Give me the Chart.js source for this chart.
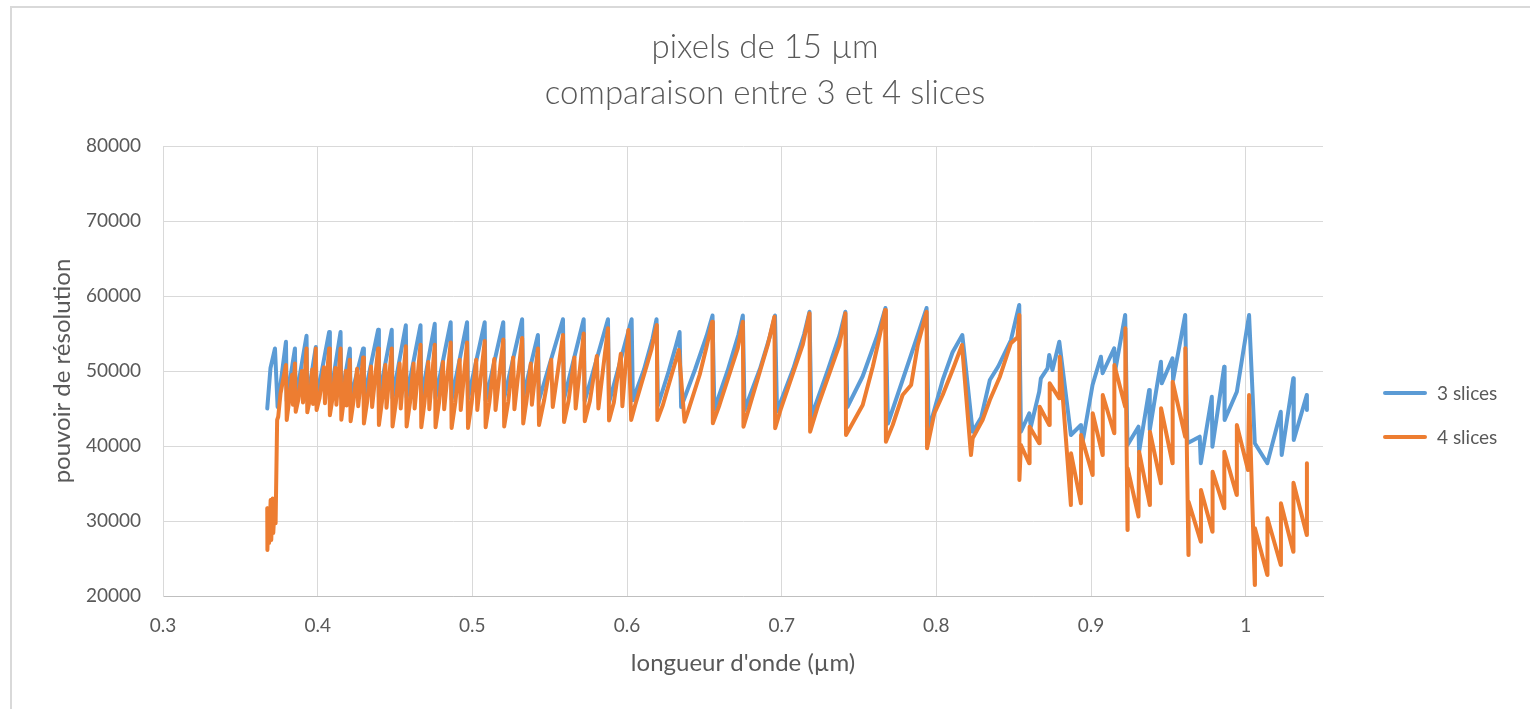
<!DOCTYPE html>
<html>
<head>
<meta charset="utf-8">
<script src="https://cdn.jsdelivr.net/npm/chart.js@4.4.1/dist/chart.umd.min.js"></script>
<style>
  html, body { margin: 0; padding: 0; background: #fff; overflow: hidden; }
  #frame { position: absolute; left: 10px; top: 6px; width: 1540px; height: 720px; border-left: 2px solid #d9d9d9; border-top: 2px solid #d9d9d9; }
  #wrap { position: absolute; left: 0; top: 0; width: 1530px; height: 709px; }
</style>
</head>
<body>
<div id="frame"></div>
<div id="wrap"><canvas id="chart" width="1530" height="709"></canvas></div>
<script>
// wavelength (µm), resolving power
const slices3 = [
  [0.3674, 45000], [0.3695, 50400], [0.3724, 53000],
  [0.3741, 45200], [0.3795, 53900],
  [0.3800, 46000], [0.3853, 53000],
  [0.3858, 46200], [0.3928, 54700],
  [0.3933, 46000], [0.3988, 53200],
  [0.3993, 46300], [0.4074, 55200],
  [0.4079, 46200], [0.4148, 55200],
  [0.4153, 46400], [0.4208, 53000],
  [0.4213, 46400], [0.4294, 53000],
  [0.4299, 46300], [0.4391, 55500],
  [0.4396, 46500], [0.4479, 55500],
  [0.4484, 46400], [0.4570, 56100],
  [0.4575, 46500], [0.4665, 56100],
  [0.4670, 46300], [0.4757, 56300],
  [0.4762, 46400], [0.4860, 56500],
  [0.4866, 46200], [0.4966, 56500],
  [0.4972, 46300], [0.5080, 56500],
  [0.5086, 46100], [0.5200, 56500],
  [0.5206, 46400], [0.5322, 56900],
  [0.5329, 46600], [0.5424, 54800],
  [0.5431, 46100], [0.5586, 56900],
  [0.5593, 46300], [0.5720, 56900],
  [0.5727, 46000], [0.5877, 56900],
  [0.5884, 45800], [0.6030, 56900],
  [0.6038, 46100], [0.6110, 50200], [0.6165, 54300], [0.6191, 56900],
  [0.6200, 45400], [0.6270, 50000], [0.6318, 53500], [0.6340, 55200],
  [0.6350, 45200], [0.6440, 50200], [0.6515, 54700], [0.6553, 57400],
  [0.6565, 44900], [0.6650, 50000], [0.6720, 54800], [0.6749, 57400],
  [0.6760, 44800], [0.6860, 50300], [0.6925, 54700], [0.6957, 57400],
  [0.6970, 44600], [0.7075, 50300], [0.7145, 54900], [0.7180, 57900],
  [0.7192, 43900], [0.7300, 50200], [0.7375, 54800], [0.7412, 57900],
  [0.7425, 45200], [0.7524, 49300], [0.7620, 54800], [0.7671, 58400],
  [0.7687, 43000], [0.7782, 48800], [0.7880, 54800], [0.7937, 58400],
  [0.7950, 42100], [0.8041, 48800], [0.8105, 52500], [0.8168, 54800],
  [0.8235, 41900], [0.8290, 43800], [0.8346, 48800], [0.8400, 50600], [0.8482, 54100], [0.8536, 58800],
  [0.8547, 41900], [0.8601, 44360], [0.8611, 42570], [0.8665, 47240], [0.8676, 49030], [0.8719, 50360], [0.8730, 52130], [0.8751, 50130], [0.8795, 53900],
  [0.8870, 41470], [0.8935, 42800], [0.8946, 40570], [0.9010, 48130], [0.9064, 51900], [0.9075, 49700], [0.9150, 53030], [0.9157, 50130], [0.9221, 57470],
  [0.9236, 40130], [0.9307, 42570], [0.9311, 39240], [0.9376, 47470], [0.9380, 42130], [0.9452, 51240], [0.9458, 48360], [0.9527, 51700], [0.9531, 48800], [0.9609, 57470],
  [0.9623, 40360], [0.9703, 41240], [0.9710, 37700], [0.9781, 46570], [0.9785, 39910], [0.9861, 50570], [0.9864, 43470], [0.9943, 47240], [1.0022, 57470],
  [1.0059, 40360], [1.0140, 37700], [1.0227, 44570], [1.0233, 38800], [1.0308, 49030], [1.0311, 40800], [1.0395, 46800], [1.0396, 44800]
];

const slices4 = [
  [0.3674, 31700], [0.3675, 26130], [0.3682, 31070], [0.3686, 27070], [0.3696, 32800], [0.3700, 27470],
  [0.3709, 33000], [0.3713, 28400], [0.3724, 32800], [0.3728, 29700], [0.3738, 43470], [0.3745, 43900], [0.3760, 47030],
  [0.3795, 50800], [0.3800, 43470], [0.3815, 46000], [0.3835, 49500], [0.3840, 45500],
  [0.3853, 51000], [0.3858, 44570], [0.3875, 46200], [0.3898, 50000], [0.3905, 45800],
  [0.3928, 53000], [0.3933, 44500], [0.3950, 46300], [0.3965, 50200], [0.3970, 45600],
  [0.3988, 53000], [0.3993, 44800], [0.4012, 46400], [0.4040, 50500], [0.4047, 45700],
  [0.4074, 53000], [0.4079, 44100], [0.4095, 46200], [0.4115, 50400], [0.4121, 45500],
  [0.4148, 53000], [0.4153, 43500], [0.4168, 46000], [0.4182, 50000], [0.4187, 45400],
  [0.4208, 51500], [0.4213, 43300], [0.4232, 46000], [0.4255, 50300], [0.4262, 45300],
  [0.4294, 51800], [0.4299, 43000], [0.4320, 45900], [0.4345, 50600], [0.4352, 45200],
  [0.4391, 53000], [0.4396, 42800], [0.4415, 45800], [0.4438, 50800], [0.4445, 45100],
  [0.4479, 53000], [0.4484, 42600], [0.4505, 45700], [0.4530, 51000], [0.4537, 45000],
  [0.4570, 53300], [0.4575, 42600], [0.4597, 45800], [0.4620, 51000], [0.4627, 45000],
  [0.4665, 53500], [0.4670, 42500], [0.4690, 45700], [0.4715, 51200], [0.4722, 44900],
  [0.4757, 53500], [0.4762, 42500], [0.4785, 45800], [0.4810, 51200], [0.4818, 44900],
  [0.4860, 53800], [0.4866, 42400], [0.4890, 45800], [0.4918, 51500], [0.4925, 44800],
  [0.4966, 53800], [0.4972, 42400], [0.4995, 45700], [0.5025, 51500], [0.5032, 44800],
  [0.5080, 54000], [0.5086, 42500], [0.5110, 45800], [0.5142, 51600], [0.5150, 44800],
  [0.5200, 54200], [0.5206, 42600], [0.5232, 45900], [0.5264, 51800], [0.5272, 44900],
  [0.5322, 54400], [0.5329, 43000], [0.5350, 46000], [0.5378, 51000], [0.5385, 45500],
  [0.5424, 53000], [0.5431, 42800], [0.5465, 46200], [0.5510, 51500], [0.5520, 45200],
  [0.5586, 54800], [0.5593, 43200], [0.5622, 46000], [0.5660, 51800], [0.5668, 45000],
  [0.5720, 55000], [0.5727, 43300], [0.5760, 46000], [0.5805, 52000], [0.5815, 45000],
  [0.5877, 55700], [0.5884, 43400], [0.5915, 45800], [0.5960, 52300], [0.5970, 45300],
  [0.6009, 55470], [0.6027, 43470], [0.6053, 45470], [0.6157, 52800], [0.6193, 56130],
  [0.6196, 43470], [0.6232, 45470], [0.6335, 52800],
  [0.6372, 43240], [0.6394, 44570], [0.6470, 49500], [0.6512, 53030], [0.6551, 56570],
  [0.6555, 43030], [0.6598, 45470], [0.6716, 53030], [0.6749, 56570],
  [0.6753, 42570], [0.6792, 45240], [0.6910, 53470], [0.6953, 57240],
  [0.6958, 42360], [0.6996, 45030], [0.7136, 53470], [0.7180, 57700],
  [0.7184, 41900], [0.7233, 45240], [0.7373, 53470], [0.7412, 57700],
  [0.7416, 41470], [0.7470, 43470], [0.7524, 45470], [0.7589, 50570], [0.7621, 53470], [0.7669, 58130],
  [0.7674, 40570], [0.7718, 42800], [0.7782, 46800], [0.7837, 48130], [0.7880, 53470], [0.7937, 57900],
  [0.7940, 39700], [0.7987, 44360], [0.8041, 46800], [0.8105, 50130], [0.8166, 53470],
  [0.8224, 38800], [0.8235, 41030], [0.8299, 43470], [0.8346, 46130], [0.8411, 49240], [0.8482, 53700], [0.8525, 54500], [0.8536, 57470],
  [0.8537, 35470], [0.8547, 40130], [0.8600, 37700], [0.8603, 42570], [0.8665, 40360], [0.8668, 45240], [0.8730, 42800], [0.8733, 48360], [0.8795, 46360], [0.8798, 51900],
  [0.8870, 32130], [0.8871, 39030], [0.8935, 32360], [0.8936, 41470], [0.9010, 36130], [0.9011, 44360], [0.9075, 38800], [0.9076, 46800], [0.9150, 41700], [0.9151, 50800], [0.9221, 45240], [0.9222, 55700],
  [0.9236, 28800], [0.9237, 37030], [0.9307, 30600], [0.9311, 39240], [0.9380, 32130], [0.9381, 41900], [0.9452, 35030], [0.9453, 45030], [0.9527, 37700], [0.9528, 48570], [0.9609, 41240], [0.9610, 53030],
  [0.9630, 25470], [0.9631, 32570], [0.9710, 27240], [0.9711, 34130], [0.9785, 28570], [0.9786, 36570], [0.9861, 31700], [0.9862, 39240], [0.9942, 33470], [0.9943, 42800], [1.0015, 36800], [1.0022, 46800],
  [1.0059, 21470], [1.0060, 29030], [1.0140, 22800], [1.0141, 30360], [1.0227, 24130], [1.0228, 32360], [1.0308, 25910], [1.0309, 35100], [1.0395, 28130], [1.0396, 37700]
];

const seriesLabels = ['3 slices', '4 slices'];
const seriesColors = ['#5B9BD5', '#ED7D31'];
const xTickValues = [0.3, 0.4, 0.5, 0.6, 0.7, 0.8, 0.9, 1];
const xRange = [0.3, 1.05];
const yRange = [20000, 80000];
const yStep = 10000;

const textColor = '#595959';
const gridColor = '#d9d9d9';

function toPoints(pairs) {
  return pairs.map(([x, y]) => ({ x, y }));
}

// Legend drawn beside the plot, like the Excel layout
const sideLegend = {
  id: 'sideLegend',
  afterDraw(chart) {
    const { ctx, chartArea } = chart;
    const x0 = chartArea.right + 62;
    const rowY = [chartArea.top + 247, chartArea.top + 291];
    ctx.save();
    ctx.font = '19px Lato';
    ctx.textBaseline = 'middle';
    ctx.fillStyle = textColor;
    chart.data.datasets.forEach((ds, i) => {
      ctx.strokeStyle = ds.borderColor;
      ctx.lineWidth = 4;
      ctx.lineCap = 'round';
      ctx.beginPath();
      ctx.moveTo(x0, rowY[i]);
      ctx.lineTo(x0 + 40, rowY[i]);
      ctx.stroke();
      ctx.fillText(ds.label, x0 + 52, rowY[i] + 1);
    });
    ctx.restore();
  }
};

new Chart(document.getElementById('chart'), {
  type: 'line',
  data: {
    datasets: [
      {
        label: seriesLabels[0],
        data: toPoints(slices3),
        borderColor: seriesColors[0],
        backgroundColor: seriesColors[0],
        borderWidth: 4,
        order: 2,
      },
      {
        label: seriesLabels[1],
        data: toPoints(slices4),
        borderColor: seriesColors[1],
        backgroundColor: seriesColors[1],
        borderWidth: 4,
        order: 1,
      },
    ],
  },
  options: {
    responsive: false,
    animation: false,
    elements: {
      point: { radius: 0 },
      line: { tension: 0, borderJoinStyle: 'round', borderCapStyle: 'round', fill: false },
    },
    layout: { padding: { left: 0, right: 0, top: 24, bottom: 0 } },
    plugins: {
      legend: { display: false },
      tooltip: { enabled: false },
      title: {
        display: true,
        text: ['pixels de 15 µm', 'comparaison entre 3 et 4 slices'],
        color: textColor,
        font: { family: 'Lato', size: 33, weight: '300', lineHeight: 46 / 33 },
        padding: { top: 0, bottom: 30 },
      },
    },
    scales: {
      x: {
        type: 'linear',
        min: xRange[0],
        max: xRange[1],
        afterBuildTicks: (scale) => { scale.ticks = xTickValues.map(value => ({ value })); },
        afterFit: (scale) => { scale.height = 113; },
        ticks: { color: textColor, font: { family: 'Lato', size: 19 }, padding: 18, maxRotation: 0, callback: v => String(v) },
        grid: { color: gridColor, lineWidth: 1, drawTicks: false },
        border: { display: true, color: '#bfbfbf', width: 1 },
        title: {
          display: true,
          text: "longueur d'onde (µm)",
          color: textColor,
          font: { family: 'Lato', size: 24 },
          padding: { top: 0, bottom: 31 },
        },
      },
      y: {
        min: yRange[0],
        max: yRange[1],
        afterFit: (scale) => { scale.width = 163; },
        ticks: { stepSize: yStep, color: textColor, font: { family: 'Lato', size: 19 }, padding: 22, callback: v => String(v) },
        grid: { color: gridColor, lineWidth: 1, drawTicks: false },
        border: { display: true, color: gridColor, width: 1 },
        title: {
          display: true,
          text: 'pouvoir de résolution',
          color: textColor,
          font: { family: 'Lato', size: 24 },
          padding: { top: 48, bottom: 0 },
        },
      },
      // empty column on the right that holds the legend
      legendSpace: {
        position: 'right',
        min: yRange[0],
        max: yRange[1],
        afterFit: (scale) => { scale.width = 207; },
        ticks: { display: false },
        grid: { display: false, drawOnChartArea: false },
        border: { display: false },
      },
    },
  },
  plugins: [sideLegend],
});
</script>
</body>
</html>
